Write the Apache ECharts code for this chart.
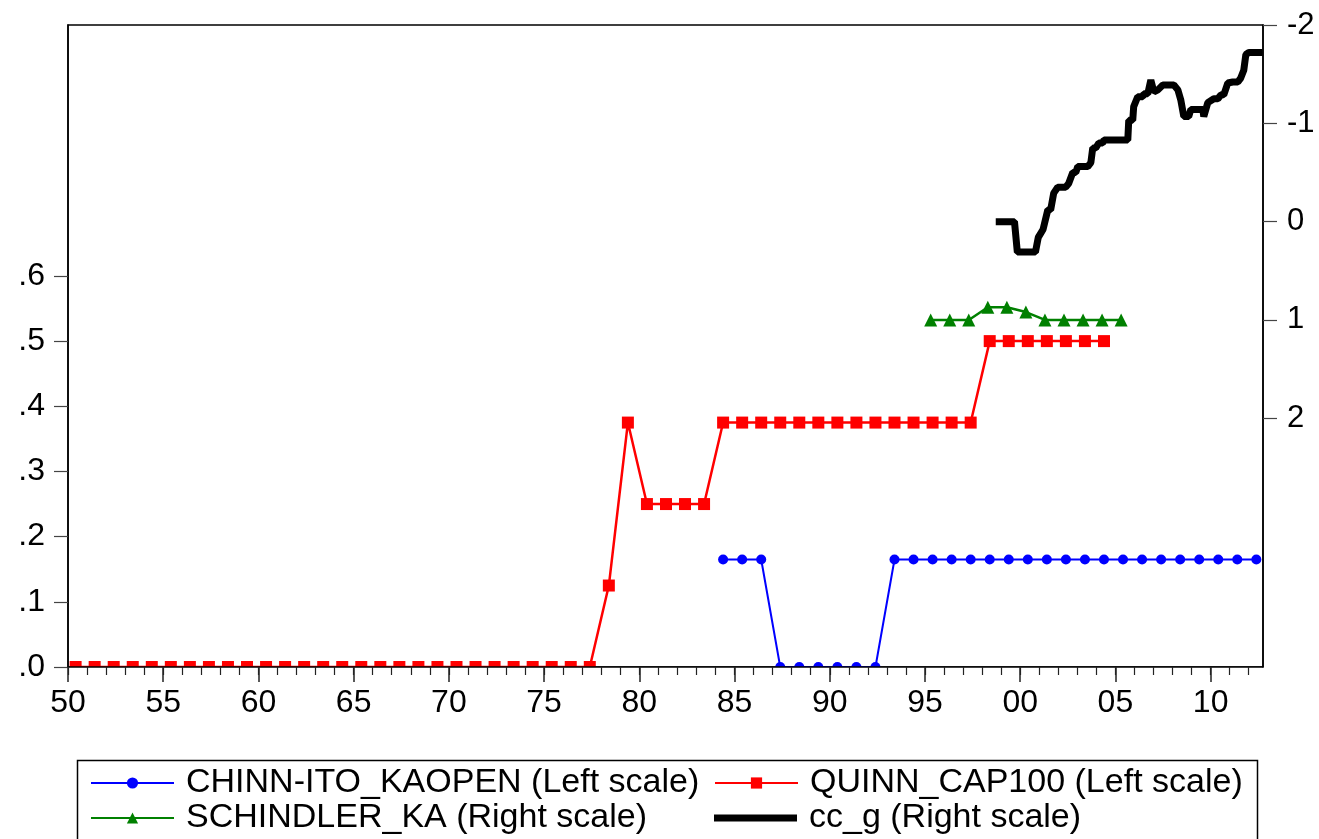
<!DOCTYPE html>
<html>
<head>
<meta charset="utf-8">
<script src="https://cdn.jsdelivr.net/npm/echarts@6/dist/echarts.min.js"></script>
<style>
html,body{margin:0;padding:0;background:#fff;}
#chart{width:1319px;height:839px;}
</style>
</head>
<body>
<div id="chart"></div>
<script>
// ---- data ----
const quinnYears = [1950,1951,1952,1953,1954,1955,1956,1957,1958,1959,1960,1961,1962,1963,1964,1965,1966,1967,1968,1969,1970,1971,1972,1973,1974,1975,1976,1977,1978,1979,1980,1981,1982,1983,1984,1985,1986,1987,1988,1989,1990,1991,1992,1993,1994,1995,1996,1997,1998,1999,2000,2001,2002,2003,2004];
const quinnValues = [0,0,0,0,0,0,0,0,0,0,0,0,0,0,0,0,0,0,0,0,0,0,0,0,0,0,0,0,0.125,0.375,0.25,0.25,0.25,0.25,0.375,0.375,0.375,0.375,0.375,0.375,0.375,0.375,0.375,0.375,0.375,0.375,0.375,0.375,0.5,0.5,0.5,0.5,0.5,0.5,0.5];
const chinnYears = [1984,1985,1986,1987,1988,1989,1990,1991,1992,1993,1994,1995,1996,1997,1998,1999,2000,2001,2002,2003,2004,2005,2006,2007,2008,2009,2010,2011,2012];
const chinnValues = [0.165,0.165,0.165,0,0,0,0,0,0,0.165,0.165,0.165,0.165,0.165,0.165,0.165,0.165,0.165,0.165,0.165,0.165,0.165,0.165,0.165,0.165,0.165,0.165,0.165,0.165];
const schindlerYears = [1995,1996,1997,1998,1999,2000,2001,2002,2003,2004,2005];
const schindlerValues = [1.0,1.0,1.0,0.87,0.87,0.92,1.0,1.0,1.0,1.0,1.0];
const ccgDates = [1998.9,1999.7,1999.85,2000.8,2000.95,2001.2,2001.45,2001.6,2001.76,2001.97,2002.39,2002.55,2002.76,2002.92,2003.02,2003.55,2003.71,2003.81,2003.97,2004.13,2004.33,2004.4,2005.65,2005.7,2005.91,2005.96,2006.17,2006.44,2006.49,2006.7,2006.86,2007.02,2007.23,2007.49,2008.07,2008.28,2008.43,2008.59,2008.85,2008.96,2009.22,2009.59,2009.64,2009.85,2010.17,2010.38,2010.54,2010.69,2010.9,2011.16,2011.43,2011.58,2011.74,2011.85,2012.01,2012.55];
const ccgValues = [0.0,0.0,0.31,0.31,0.16,0.08,-0.12,-0.12,-0.29,-0.35,-0.35,-0.39,-0.5,-0.5,-0.56,-0.56,-0.6,-0.75,-0.75,-0.8,-0.8,-0.83,-0.83,-1.03,-1.03,-1.17,-1.27,-1.27,-1.3,-1.3,-1.44,-1.32,-1.34,-1.39,-1.39,-1.34,-1.24,-1.07,-1.07,-1.14,-1.14,-1.14,-1.07,-1.21,-1.25,-1.25,-1.29,-1.29,-1.41,-1.42,-1.42,-1.46,-1.54,-1.7,-1.72,-1.72];
const xMajorTicks = [1950,1955,1960,1965,1970,1975,1980,1985,1990,1995,2000,2005,2010];
const leftTicks = [0,0.1,0.2,0.3,0.4,0.5,0.6];
const rightTicks = [-2,-1,0,1,2];
const names = ['CHINN-ITO_KAOPEN (Left scale)','QUINN_CAP100 (Left scale)','SCHINDLER_KA (Right scale)','cc_g (Right scale)'];

// ---- build ----
const annualOffset = 0.4;
const pairs = (xs, ys, off) => xs.map((x, i) => [x + off, ys[i]]);
const minorYears = [];
for (let y = 1950; y <= 2012; y++) minorYears.push(y);

const FONT = 'Liberation Sans, Arial, sans-serif';
const legendBase = {
  orient: 'horizontal', itemWidth: 83, itemHeight: 14, padding: 0,
  textStyle: {fontSize: 34, fontFamily: FONT, color: '#000', padding: [0, 0, 0, 7]}
};
const legends = [
  {left: 90, top: 766, data: [names[0]]},
  {left: 714, top: 766, data: [names[1]]},
  {left: 90, top: 801, data: [names[2]]},
  {left: 714, top: 801, data: [{name: names[3], icon: 'rect'}], itemHeight: 7}
].map(l => Object.assign({}, legendBase, l));

const chart = echarts.init(document.getElementById('chart'), null, {renderer: 'canvas'});
chart.setOption({
  animation: false,
  backgroundColor: '#fff',
  grid: {left: 68, right: 56, top: 25, bottom: 172, show: true, borderColor: '#000', borderWidth: 1.5},
  xAxis: [{
    type: 'value', min: 1950, max: 2012.75, interval: 5, z: 10,
    axisLine: {show: true, onZero: false, lineStyle: {color: '#000', width: 1.5}},
    axisTick: {show: true, customValues: xMajorTicks, length: 15, lineStyle: {color: '#222', width: 1.5}},
    axisLabel: {customValues: xMajorTicks, color: '#000', fontSize: 32, fontFamily: FONT, margin: 20,
      formatter: v => String(Math.round(v) % 100).padStart(2, '0')},
    splitLine: {show: false}
  }, {
    type: 'value', min: 1950, max: 2012.75, position: 'bottom', z: 10,
    axisLine: {show: false},
    axisTick: {show: true, customValues: minorYears, length: 8, lineStyle: {color: '#222', width: 1.2}},
    axisLabel: {show: false},
    splitLine: {show: false}
  }],
  yAxis: [{
    type: 'value', min: 0, max: 0.985, position: 'left', z: 10,
    axisLine: {show: true, lineStyle: {color: '#000', width: 1.5}},
    axisTick: {show: true, customValues: leftTicks, length: 14, lineStyle: {color: '#444', width: 1.2}},
    axisLabel: {customValues: leftTicks, color: '#000', fontSize: 32, fontFamily: FONT, margin: 23,
      formatter: v => '.' + Math.round(v * 10)},
    splitLine: {show: false}
  }, {
    type: 'value', min: -2, max: 4.53, inverse: true, position: 'right', z: 10,
    axisLine: {show: true, lineStyle: {color: '#000', width: 1.5}},
    axisTick: {show: true, customValues: rightTicks, length: 14, lineStyle: {color: '#444', width: 1.2}},
    axisLabel: {customValues: rightTicks, color: '#000', fontSize: 31, fontFamily: FONT, margin: 24,
      formatter: v => String(v)},
    splitLine: {show: false}
  }],
  legend: legends,
  graphic: [{
    type: 'rect', z: 5, left: 55, top: 667, shape: {width: 1220, height: 18},
    style: {fill: '#fff'}, silent: true
  }, {
    type: 'rect', z: 5, left: 75, top: 758, shape: {width: 1180, height: 90},
    style: {fill: 'none', stroke: '#000', lineWidth: 1.5}, silent: true
  }],
  series: [{
    name: names[0], type: 'line', xAxisIndex: 0, yAxisIndex: 0,
    data: pairs(chinnYears, chinnValues, annualOffset),
    symbol: 'circle', symbolSize: 10,
    lineStyle: {color: '#0000ff', width: 2}, itemStyle: {color: '#0000ff'}, z: 3
  }, {
    name: names[1], type: 'line', xAxisIndex: 0, yAxisIndex: 0,
    data: pairs(quinnYears, quinnValues, annualOffset),
    symbol: 'rect', symbolSize: 12,
    lineStyle: {color: '#ff0000', width: 2.5}, itemStyle: {color: '#ff0000'}, z: 2
  }, {
    name: names[2], type: 'line', xAxisIndex: 0, yAxisIndex: 1,
    data: pairs(schindlerYears, schindlerValues, annualOffset - 0.1),
    symbol: 'triangle', symbolSize: 13,
    lineStyle: {color: '#008000', width: 2.5}, itemStyle: {color: '#008000'}, z: 2
  }, {
    name: names[3], type: 'line', xAxisIndex: 0, yAxisIndex: 1,
    data: pairs(ccgDates, ccgValues, 0),
    symbol: 'none', showSymbol: false,
    lineStyle: {color: '#000', width: 7, join: 'bevel', cap: 'square'}, itemStyle: {color: '#000'}, z: 4
  }]
});
</script>
</body>
</html>
